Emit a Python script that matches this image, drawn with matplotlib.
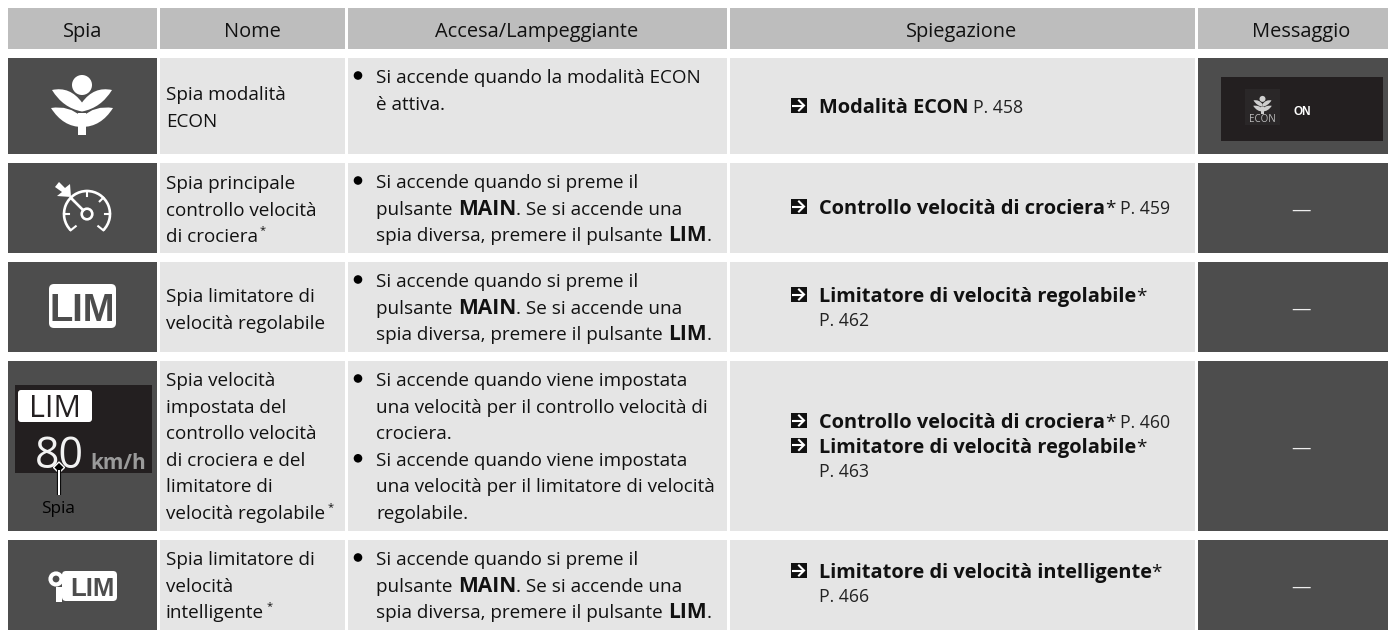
import numpy as np
import matplotlib
matplotlib.use("Agg")
import matplotlib.pyplot as plt
from matplotlib.patches import Rectangle, Circle, FancyBboxPatch, Polygon, PathPatch, Arc
from matplotlib.path import Path

# Testi della tabella
headers = ["Spia", "Nome", "Accesa/Lampeggiante", "Spiegazione", "Messaggio"]

names = [
    ["Spia modalità", "ECON"],
    ["Spia principale", "controllo velocità", "di crociera^"],
    ["Spia limitatore di", "velocità regolabile"],
    ["Spia velocità", "impostata del", "controllo velocità", "di crociera e del", "limitatore di", "velocità regolabile^"],
    ["Spia limitatore di", "velocità", "intelligente^"],
]

# **...** = grassetto
descriptions = [
    ["- Si accende quando la modalità ECON", "è attiva."],
    ["- Si accende quando si preme il", "pulsante **MAIN**. Se si accende una", "spia diversa, premere il pulsante **LIM**."],
    ["- Si accende quando si preme il", "pulsante **MAIN**. Se si accende una", "spia diversa, premere il pulsante **LIM**."],
    ["- Si accende quando viene impostata", "una velocità per il controllo velocità di", "crociera.",
     "- Si accende quando viene impostata", "una velocità per il limitatore di velocità", "regolabile."],
    ["- Si accende quando si preme il", "pulsante **MAIN**. Se si accende una", "spia diversa, premere il pulsante **LIM**."],
]

refs = [
    [("Modalità ECON", "P. 458")],
    [("Controllo velocità di crociera*", "P. 459")],
    [("Limitatore di velocità regolabile*", ""), ("", "P. 462")],
    [("Controllo velocità di crociera*", "P. 460"), ("Limitatore di velocità regolabile*", ""), ("", "P. 463")],
    [("Limitatore di velocità intelligente*", ""), ("", "P. 466")],
]

# Layout in pixel
W, H = 1388, 630
col_x = [(8, 157), (160, 345), (348, 727), (730, 1195), (1198, 1388)]
row_y = [(58, 154), (163, 253), (262, 352), (361, 531), (540, 630)]
name_base = [100, 189, 302, 386, 565]
desc_base = [83, 188, 287, 386, 565]
ref_base = [113, 214, 302, 428, 578]
LINE = 26.6
DARK = "#4d4d4d"
LIGHT = "#e5e5e5"
HEAD = "#bdbdbd"
PANEL = "#231f20"
INK = "#111111"
FS = 13.6
FS_BOLD = 15.1
FS_REF = 14.4
NARROW = ["Liberation Sans Narrow", "Liberation Sans"]

plt.rcParams["font.family"] = ["Open Sans", "DejaVu Sans"]

fig = plt.figure(figsize=(W / 100, H / 100), dpi=100)
ax = fig.add_axes([0, 0, 1, 1])
ax.set_xlim(0, W)
ax.set_ylim(H, 0)
ax.axis("off")
rend = fig.canvas.get_renderer()


def adv(s, **kw):
    # larghezza con spazi finali compresi
    t1 = ax.text(0, 0, "x" + s + "x", **kw)
    t2 = ax.text(0, 0, "xx", **kw)
    w = t1.get_window_extent(rend).width - t2.get_window_extent(rend).width
    t1.remove()
    t2.remove()
    return w


def rich(x, y, line, bold_size=FS_BOLD):
    parts = line.split("**")
    for i, p in enumerate(parts):
        if not p:
            continue
        if i % 2:
            kw = dict(fontsize=bold_size, color=INK, fontweight="bold")
        else:
            kw = dict(fontsize=FS, color=INK)
        ax.text(x, y, p, va="baseline", ha="left", **kw)
        x += adv(p, **kw)
    return x


def put_name(x, y, line):
    if line.endswith("^"):
        x2 = rich(x, y, line[:-1])
        ax.text(x2 + 2, y - 9, "*", fontsize=8, color=INK, va="baseline")
    else:
        rich(x, y, line)


def ref_arrow(x, y):
    ax.add_patch(Rectangle((x, y - 15), 16.5, 15, fc="#111111", ec="none"))
    ax.plot([x + 1.5, x + 12], [y - 7.5, y - 7.5], color="white", lw=1.5, solid_capstyle="butt")
    ax.plot([x + 8, x + 13, x + 8], [y - 12.5, y - 7.5, y - 2.5], color="white", lw=1.5, solid_joinstyle="miter")


def plant(cx, cy, s, col):
    # cy = centro del cerchio + 17
    def pt(dx, dy):
        return (cx + dx * s, cy + dy * s)

    ax.add_patch(Circle(pt(0, -17), 10 * s, fc=col, ec="none"))
    codes = [Path.MOVETO, Path.CURVE3, Path.CURVE3, Path.CURVE3, Path.CURVE3, Path.CLOSEPOLY]
    for sgn in (-1, 1):
        up = [pt(0, 9.5), pt(sgn * 19, 6), pt(sgn * 30, -12), pt(sgn * 12, -16), pt(0, 0.5), pt(0, 9.5)]
        low = [pt(0, 25), pt(sgn * 19, 25), pt(sgn * 31, 6), pt(sgn * 13, 3), pt(0, 15), pt(0, 25)]
        ax.add_patch(PathPatch(Path(up, codes), fc=col, ec="none"))
        ax.add_patch(PathPatch(Path(low, codes), fc=col, ec="none"))
    ax.add_patch(Rectangle(pt(-3.7, 11), 7.4 * s, 22 * s, fc=col, ec="none"))


def gauge(cx, cy):
    # asse y invertito: 270 gradi = in alto
    ax.add_patch(Circle((cx, cy), 5.3, fc="none", ec="white", lw=1.9))
    ax.add_patch(Arc((cx, cy), 46, 46, theta1=135, theta2=405, ec="white", lw=1.9))
    for a in (180, 225, 270, 315, 360):
        c, sn = np.cos(np.radians(a)), np.sin(np.radians(a))
        ax.plot([cx + 23 * c, cx + 18 * c], [cy + 23 * sn, cy + 18 * sn], color="white", lw=1.5)
    for a, d in ((135, 5), (45, -5)):
        c, sn = np.cos(np.radians(a)), np.sin(np.radians(a))
        ex, ey = cx + 23 * c, cy + 23 * sn
        ax.plot([ex, ex + d], [ey, ey - 4], color="white", lw=1.5)
    ax.plot([cx - 3.8, cx - 15.5], [cy - 3.8, cy - 15.5], color="white", lw=1.9)
    # freccia in alto a sinistra
    ax.add_patch(Polygon([(cx - 32, cy - 27), (cx - 28, cy - 32), (cx - 22, cy - 26), (cx - 17, cy - 30),
                          (cx - 16, cy - 17), (cx - 30, cy - 18), (cx - 25, cy - 22)], closed=True, fc="white", ec="none"))


# Intestazione
for (x0, x1), h in zip(col_x, headers):
    ax.add_patch(Rectangle((x0, 8), x1 - x0, 41, fc=HEAD, ec="none"))
head_cx = [82.5, 252, 537, 962, 1301]
for cx, h in zip(head_cx, headers):
    ax.text(cx, 37, h, ha="center", va="baseline", fontsize=14.4, color=INK)

# Righe
for i, (y0, y1) in enumerate(row_y):
    for j, (x0, x1) in enumerate(col_x):
        c = DARK if j in (0, 4) else LIGHT
        ax.add_patch(Rectangle((x0, y0), x1 - x0, y1 - y0, fc=c, ec="none"))

    for k, line in enumerate(names[i]):
        put_name(166, name_base[i] + k * LINE, line)

    for k, line in enumerate(descriptions[i]):
        y = desc_base[i] + k * LINE
        if line.startswith("- "):
            ax.add_patch(Circle((358, y - 7.5), 4.3, fc="black", ec="none"))
            line = line[2:]
        rich(376.5, y, line)

    y = ref_base[i]
    for bold, page in refs[i]:
        x = 819
        if bold:
            ref_arrow(791, y)
            x = rich(x, y, "**" + bold + "**", FS_REF)
            x += 5
        if page:
            ax.text(x, y, page, fontsize=12.7, color="#222222", va="baseline")
        y += 24.5

    if i > 0:
        ax.text(1301, (y0 + y1) / 2 + 7.5, "—", ha="center", va="baseline", fontsize=14, color="#eeeeee")

# Icone
plant(82, 102, 1.0, "white")
gauge(87, 214)

ax.add_patch(FancyBboxPatch((49, 284), 67, 44, boxstyle="round,pad=0,rounding_size=5", fc="white", ec="none"))
ax.text(82.5, 321, "LIM", ha="center", va="baseline", fontsize=27.5, fontweight="bold", family=NARROW, color=DARK)

# Pannello LIM 80 km/h
ax.add_patch(Rectangle((15, 385), 137, 88, fc=PANEL, ec="none"))
ax.add_patch(FancyBboxPatch((18, 390), 74, 32, boxstyle="round,pad=0,rounding_size=3", fc="white", ec="none"))
ax.text(55, 417, "LIM", ha="center", va="baseline", fontsize=22, color=PANEL)
ax.text(59.5, 468, "80", ha="center", va="baseline", fontsize=31, color="#f2f2f2")
ax.text(90, 469, "km/h", ha="left", va="baseline", fontsize=15, fontweight="bold", color="#9a9a9a")
ax.plot([59, 59], [470, 495], color="black", lw=3, solid_capstyle="butt")
ax.plot([59, 59], [470, 495], color="white", lw=1.5, solid_capstyle="butt")
ax.add_patch(Polygon([(59, 462), (64.5, 467.5), (59, 473), (53.5, 467.5)], closed=True, fc="black", ec="white", lw=1))
ax.text(58.5, 513, "Spia", ha="center", va="baseline", fontsize=12.3, color="black")

# LIM intelligente
ax.add_patch(Circle((56, 579), 5.5, fc="none", ec="white", lw=3))
ax.add_patch(Rectangle((56, 587), 6, 15, fc="white", ec="none"))
ax.add_patch(FancyBboxPatch((62, 571), 55, 30, boxstyle="round,pad=0,rounding_size=4", fc="white", ec="none"))
ax.text(92.5, 596.5, "LIM", ha="center", va="baseline", fontsize=18.5, fontweight="bold", family=NARROW, color=DARK)

# Messaggio ECON
ax.add_patch(Rectangle((1221, 77), 162, 64, fc=PANEL, ec="none"))
ax.add_patch(Rectangle((1245, 89), 35, 36, fc="#2a2728", ec="none"))
plant(1262.5, 104, 0.3, "#cfcfcf")
ax.text(1262.5, 122, "ECON", ha="center", va="baseline", fontsize=7, color="#bdbdbd")
ax.text(1302, 115, "ON", ha="center", va="baseline", fontsize=8.5, color="white", fontweight="bold", family=NARROW)

fig.savefig("out.png", dpi=100)
